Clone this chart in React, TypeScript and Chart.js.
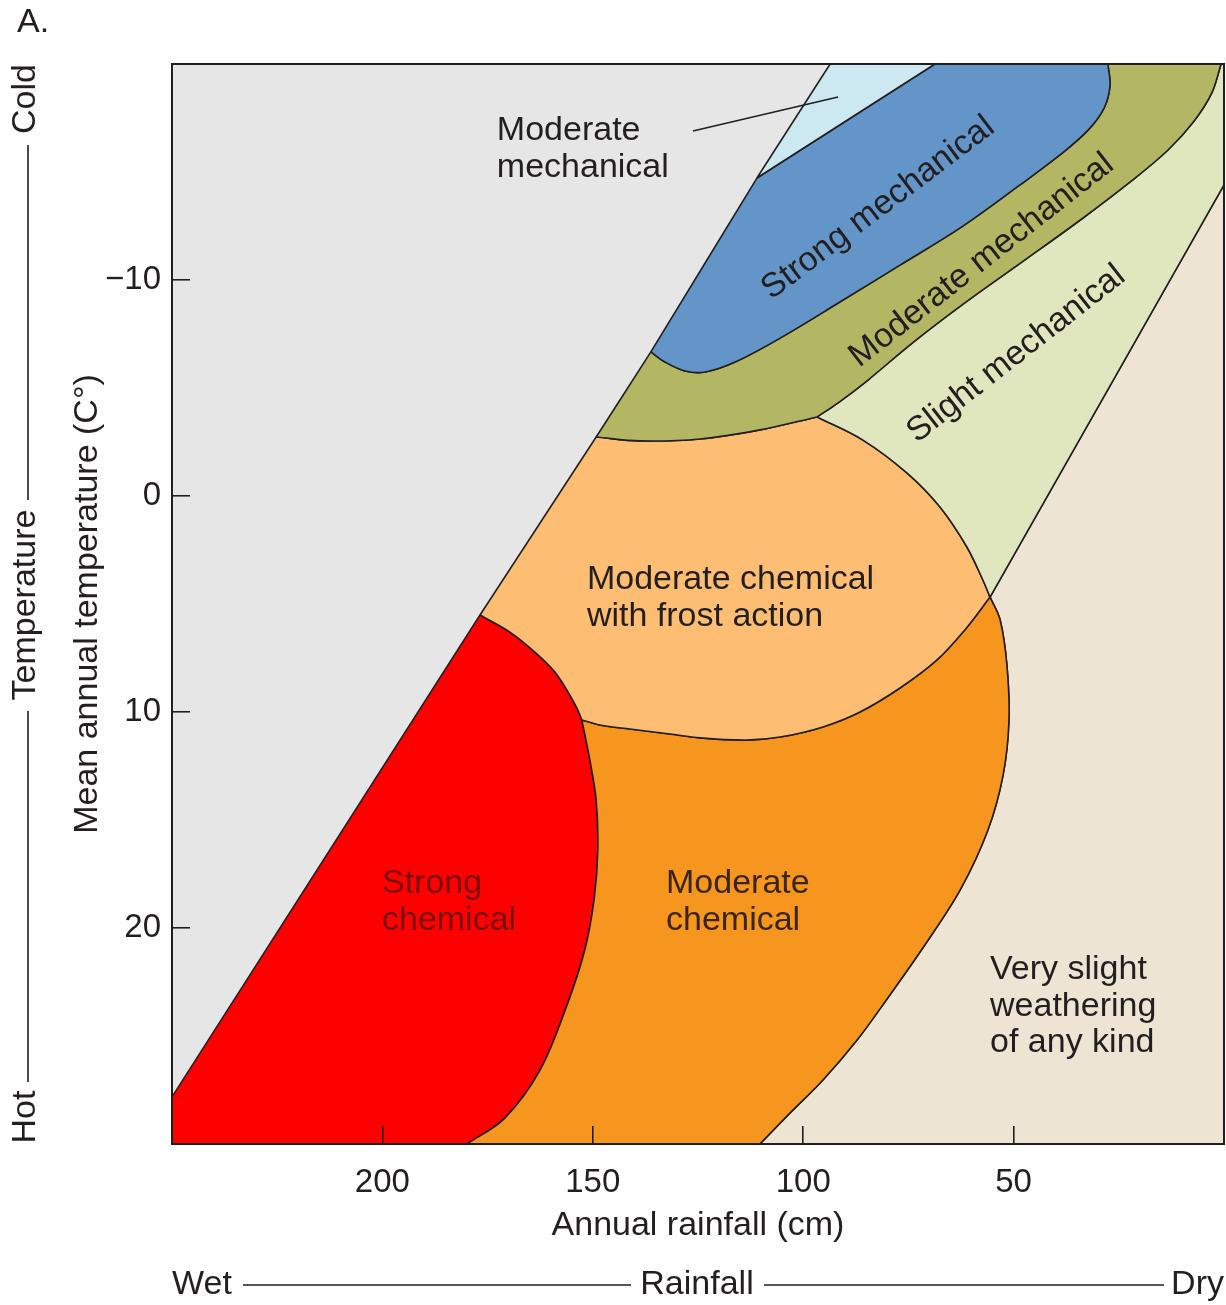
import React, { useEffect, useRef } from 'react';
import { Chart, registerables } from 'chart.js';

Chart.register(...registerables);

type Pt = [number, number];

const FONT = '"Liberation Sans", Arial, Helvetica, sans-serif';
const INK = '#231f20';

// ---- axes ----
const xTickValues = [200, 150, 100, 50];
const xTickLabels = ['200', '150', '100', '50'];
const yTickValues = [-10, 0, 10, 20];
const yTickLabels = ['\u221210', '0', '10', '20'];

// ---- boundaries, [annual rainfall (cm), mean annual temperature (°C)] ----
// corners on the straight left edge of the weathering band (bottom-left to top)
const diagonal: Pt[] = [[250, 27.82], [176.8, 5.51], [149.2, -2.73], [136.2, -6.67], [111.0, -14.72], [93.6, -20]];
const lightBlueTop: Pt = [68.7, -20];
const blueTop: Pt = [27.6, -20];
const oliveTop: Pt = [0.7, -20];
const slightRightTop: Pt = [0, -14.4];
const bandJunction: Pt = [55.6, 4.68];
const orangeBottomLeft: Pt = [179.9, 30];
const orangeBottomRight: Pt = [110.3, 30];
// strong mechanical lower/right edge, from top down to the diagonal
const blueEdge: Pt[] = [
  [27.6, -20], [27.1, -19.0], [28.5, -17.96], [32.3, -16.94], [39.0, -15.79], [48.5, -14.4],
  [62.7, -12.41], [77.0, -10.69], [91.3, -8.98], [105.5, -7.31], [116.2, -6.2], [123.3, -5.74],
  [128.1, -5.79], [132.8, -6.2], [136.2, -6.67],
];
// moderate mechanical outer edge, from top down to the triple junction
const oliveOuter: Pt[] = [
  [0.7, -20], [2.9, -18.66], [7.1, -17.36], [13.3, -16.02], [22.3, -14.54], [33.5, -12.87],
  [47.3, -10.93], [61.6, -8.94], [74.1, -7.08], [84.6, -5.37], [91.7, -4.31], [96.7, -3.66],
];
// moderate mechanical / frost-action boundary
const oliveBottom: Pt[] = [[96.7, -3.66], [110.3, -3.06], [124.5, -2.64], [138.8, -2.55], [149.2, -2.73]];
// frost-action / slight mechanical boundary
const peachRight: Pt[] = [[96.7, -3.66], [85.8, -2.59], [75.3, -1.06], [67.5, 0.51], [61.1, 2.36], [57.3, 3.89], [55.6, 4.68]];
// frost-action / moderate chemical boundary
const peachBottom: Pt[] = [
  [55.6, 4.68], [61.6, 6.2], [68.2, 7.59], [77.0, 8.89], [86.5, 10.0], [95.3, 10.69], [105.5, 11.16],
  [113.6, 11.3], [124.5, 11.2], [131.7, 11.02], [141.2, 10.79], [148.3, 10.6], [152.6, 10.37],
];
// strong chemical / frost-action boundary
const redPeach: Pt[] = [[176.8, 5.51], [169.7, 6.3], [163.5, 7.27], [159.0, 8.15], [155.9, 9.07], [153.8, 9.81], [152.6, 10.37]];
// strong chemical / moderate chemical boundary
const redOrange: Pt[] = [
  [152.6, 10.37], [150.7, 12.22], [149.2, 14.07], [148.8, 16.39], [149.7, 18.7], [151.9, 21.02],
  [156.1, 23.56], [162.5, 26.57], [170.9, 28.8], [179.9, 30],
];
// moderate chemical / very slight boundary
const orangeRight: Pt[] = [
  [55.6, 4.68], [53.2, 5.74], [51.6, 7.82], [51.1, 10.37], [52.5, 12.92], [56.1, 15.46], [62.7, 18.24],
  [71.1, 20.79], [79.4, 23.1], [87.2, 25.19], [95.3, 27.04], [103.1, 28.56], [110.3, 30],
];
const leaderLine: Pt[] = [[126.2, -16.9], [91.7, -18.47]];

const rev = (a: Pt[]) => [...a].reverse();
// joins edges end-to-start; the shared corner is kept twice so the curve stays sharp there
const shape = (...edges: Pt[][]) => edges.flat() as Pt[];
const seg = (a: Pt, b: Pt): Pt[] => [a, b];

const regions = [
  { name: 'Very slight weathering', color: '#ede4d3', pts: shape(seg(slightRightTop, bandJunction), orangeRight, seg(orangeBottomRight, [0, 30]), seg([0, 30], slightRightTop)) },
  { name: 'Strong chemical', color: '#ff0000', pts: shape(seg(diagonal[0], diagonal[1]), redPeach, redOrange, seg(orangeBottomLeft, [250, 30]), seg([250, 30], diagonal[0])) },
  { name: 'Moderate chemical', color: '#f7961e', pts: shape(peachBottom, redOrange, seg(orangeBottomLeft, orangeBottomRight), rev(orangeRight)) },
  { name: 'Moderate chemical with frost action', color: '#fdbd72', pts: shape(seg(diagonal[1], diagonal[2]), rev(oliveBottom), peachRight, peachBottom, rev(redPeach)) },
  { name: 'Slight mechanical', color: '#e0e6bd', pts: shape(oliveOuter, peachRight, seg(bandJunction, slightRightTop), seg(slightRightTop, [0, -20]), seg([0, -20], oliveTop)) },
  { name: 'Moderate mechanical (band)', color: '#b3b663', pts: shape(rev(blueEdge), seg(blueTop, oliveTop), oliveOuter, oliveBottom, seg(diagonal[2], diagonal[3])) },
  { name: 'Strong mechanical', color: '#6395c9', pts: shape(seg(diagonal[4], lightBlueTop), seg(lightBlueTop, blueTop), blueEdge, seg(diagonal[3], diagonal[4])) },
  { name: 'Moderate mechanical (top)', color: '#cce9f2', pts: shape(seg(diagonal[4], diagonal[5]), seg(diagonal[5], lightBlueTop), seg(lightBlueTop, diagonal[4])) },
];

const regionLabels = [
  { lines: ['Moderate', 'mechanical'], x: 172.8, y: -16.9, align: 'left', angle: 0, color: INK },
  { lines: ['Strong mechanical'], x: 82.2, y: -13.33, align: 'center', angle: -37, color: INK },
  { lines: ['Moderate mechanical'], x: 57.6, y: -10.9, align: 'center', angle: -38, color: INK },
  { lines: ['Slight mechanical'], x: 49.4, y: -6.57, align: 'center', angle: -38, color: INK },
  { lines: ['Moderate chemical', 'with frost action'], x: 151.4, y: 3.89, align: 'left', angle: 0, color: INK },
  { lines: ['Strong', 'chemical'], x: 200.1, y: 17.96, align: 'left', angle: 0, color: '#7b0d0d' },
  { lines: ['Moderate', 'chemical'], x: 132.6, y: 17.96, align: 'left', angle: 0, color: '#3a2610' },
  { lines: ['Very slight', 'weathering', 'of any kind'], x: 55.6, y: 21.94, align: 'left', angle: 0, color: INK },
];

const toXY = (pts: Pt[]) => pts.map(([x, y]) => ({ x, y }));

const backgroundPlugin = {
  id: 'plotBackground',
  beforeDraw(chart: any) {
    const { ctx, chartArea: a } = chart;
    ctx.save();
    ctx.fillStyle = '#ffffff';
    ctx.fillRect(0, 0, chart.width, chart.height);
    ctx.fillStyle = '#e6e6e7';
    ctx.fillRect(a.left, a.top, a.right - a.left, a.bottom - a.top);
    ctx.restore();
  },
};

const textPlugin = {
  id: 'texts',
  afterDraw(chart: any) {
    const { ctx, chartArea: a } = chart;
    const xs = chart.scales.x;
    const ys = chart.scales.y;
    ctx.save();
    ctx.font = `34px ${FONT}`;
    ctx.textBaseline = 'middle';
    for (const l of regionLabels) {
      const px = xs.getPixelForValue(l.x);
      const py = ys.getPixelForValue(l.y);
      ctx.save();
      ctx.translate(px, py);
      ctx.rotate((l.angle * Math.PI) / 180);
      ctx.fillStyle = l.color;
      ctx.textAlign = l.align as CanvasTextAlign;
      l.lines.forEach((t, i) => ctx.fillText(t, 0, i * 36.5));
      ctx.restore();
    }
    // frame
    ctx.strokeStyle = INK;
    ctx.lineWidth = 2;
    ctx.strokeRect(a.left, a.top, a.right - a.left, a.bottom - a.top);

    // outer annotations
    ctx.fillStyle = INK;
    ctx.textAlign = 'left';
    ctx.fillText('A.', 17, 23);
    ctx.lineWidth = 1.6;
    const vx = 28;
    const vtext = (t: string, cy: number) => {
      ctx.save();
      ctx.translate(26, cy);
      ctx.rotate(-Math.PI / 2);
      ctx.textAlign = 'center';
      ctx.fillText(t, 0, 0);
      ctx.restore();
    };
    vtext('Cold', 99);
    vtext('Temperature', 605);
    vtext('Hot', 1117);
    ctx.beginPath();
    ctx.moveTo(vx, 145); ctx.lineTo(vx, 500);
    ctx.moveTo(vx, 711); ctx.lineTo(vx, 1082);
    ctx.stroke();
    const hy = 1285;
    ctx.textAlign = 'left';
    ctx.fillText('Wet', 172, hy);
    ctx.textAlign = 'center';
    ctx.fillText('Rainfall', 697, hy);
    ctx.textAlign = 'right';
    ctx.fillText('Dry', 1224, hy);
    ctx.beginPath();
    ctx.moveTo(243, hy); ctx.lineTo(631, hy);
    ctx.moveTo(764, hy); ctx.lineTo(1164, hy);
    ctx.stroke();
    ctx.restore();
  },
};

export default function App() {
  const ref = useRef<HTMLCanvasElement | null>(null);
  useEffect(() => {
    document.body.style.margin = '0';
    document.body.style.overflow = 'hidden';
    const canvas = ref.current;
    if (!canvas) return;
    const datasets: any[] = regions.map((r, i) => ({
      label: r.name,
      data: toXY(r.pts),
      showLine: true,
      fill: 'shape',
      backgroundColor: r.color,
      borderColor: INK,
      borderWidth: 1.6,
      borderJoinStyle: 'round',
      pointRadius: 0,
      tension: 0.35,
      order: 100 - i,
    }));
    datasets.push({
      label: 'leader',
      data: toXY(leaderLine),
      showLine: true,
      fill: false,
      borderColor: INK,
      borderWidth: 1.6,
      pointRadius: 0,
      order: 0,
    });
    const tickFont = { family: FONT, size: 33 };
    const chart = new Chart(canvas, {
      type: 'scatter',
      data: { datasets },
      plugins: [backgroundPlugin, textPlugin],
      options: {
        animation: false,
        responsive: false,
        events: [],
        layout: { padding: { top: 64, right: 2, bottom: 0, left: 0 } },
        plugins: { legend: { display: false }, tooltip: { enabled: false } },
        scales: {
          x: {
            type: 'linear',
            min: 0,
            max: 250,
            reverse: true,
            position: 'bottom',
            afterBuildTicks: (s: any) => { s.ticks = xTickValues.map((v) => ({ value: v })); },
            afterFit: (s: any) => { s.height = 161; },
            ticks: {
              autoSkip: false,
              maxRotation: 0,
              color: INK,
              font: tickFont,
              padding: 37,
              callback: (_v: any, i: number) => xTickLabels[i],
            },
            grid: { drawOnChartArea: false, tickLength: -18, color: INK, lineWidth: 1.6, z: 1 },
            border: { display: true, color: INK, width: 2, z: 1 },
            title: {
              display: true,
              text: 'Annual rainfall (cm)',
              color: INK,
              font: { family: FONT, size: 34 },
              padding: { top: 0, bottom: 59 },
            },
          },
          y: {
            type: 'linear',
            min: -20,
            max: 30,
            reverse: true,
            position: 'left',
            afterBuildTicks: (s: any) => { s.ticks = yTickValues.map((v) => ({ value: v })); },
            afterFit: (s: any) => { s.width = 172; },
            ticks: {
              autoSkip: false,
              color: INK,
              font: tickFont,
              padding: 29,
              callback: (_v: any, i: number) => yTickLabels[i],
            },
            grid: { drawOnChartArea: false, tickLength: -18, color: INK, lineWidth: 1.6, z: 1 },
            border: { display: true, color: INK, width: 2, z: 1 },
            title: {
              display: true,
              text: 'Mean annual temperature (C\u00b0)',
              color: INK,
              font: { family: FONT, size: 34 },
              padding: { top: 67.6, bottom: 0 },
            },
          },
        },
      } as any,
    });
    return () => chart.destroy();
  }, []);
  return <canvas ref={ref} width={1226} height={1305} style={{ display: 'block' }} />;
}
